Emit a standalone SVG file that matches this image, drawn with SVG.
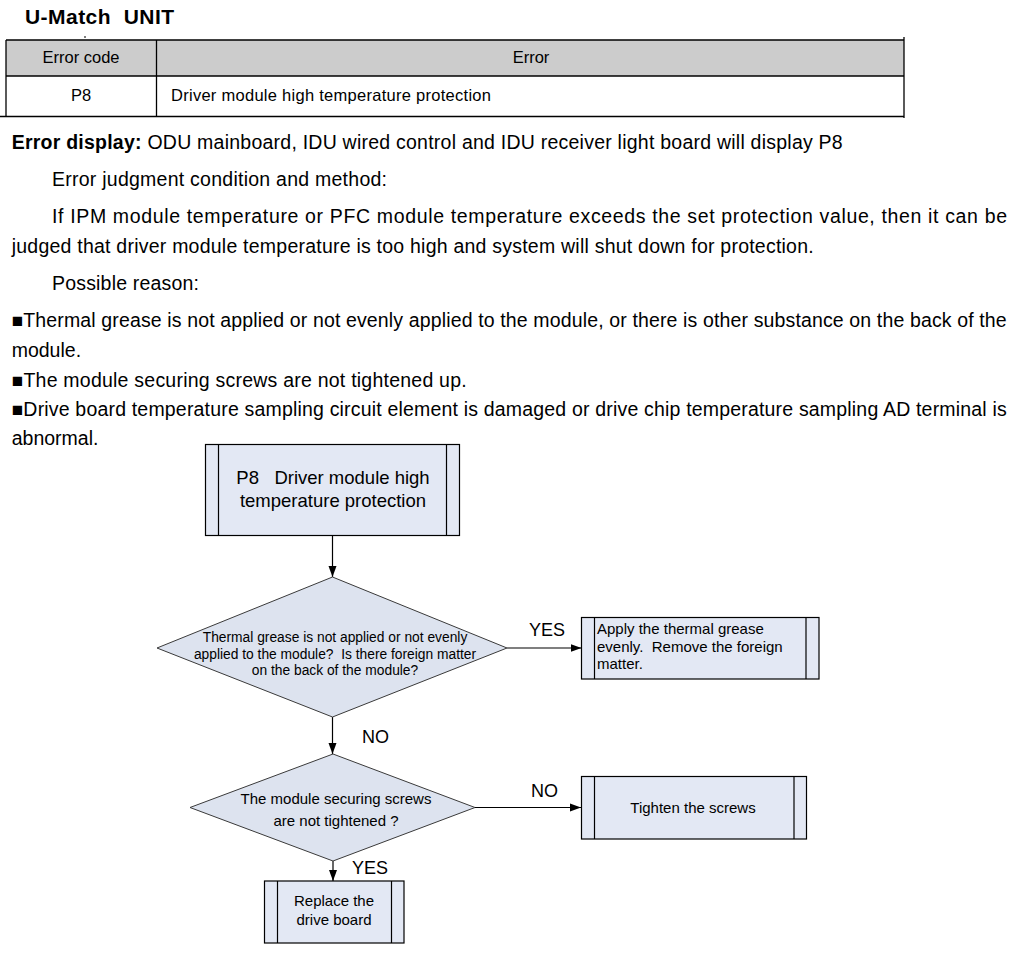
<svg xmlns="http://www.w3.org/2000/svg" width="1024" height="974" viewBox="0 0 1024 974">
<style>
  .t { font-family: "Liberation Sans", Arial, sans-serif; fill: #000; }
  .body { font-size: 19.5px; }
  .tbl { font-size: 16.5px; }
  .node { fill: #E3E8F4; stroke: #000; stroke-width: 1.2; }
  .dia { fill: #DDE3EF; stroke: #3a3a3a; stroke-width: 1; }
  .inner { stroke: #000; stroke-width: 1.2; }
  .conn { stroke: #000; stroke-width: 1.2; fill: none; }
  .lab { font-size: 18px; }
  .ft { font-size: 15px; }
  .dt { font-size: 13.8px; }
  .tline { stroke: #000; stroke-width: 1.3; }
  .bul { font-size: 19px; }
</style>
<defs>
  <marker id="arr" markerWidth="12" markerHeight="10" refX="11" refY="5" orient="auto" markerUnits="userSpaceOnUse">
    <path d="M0,1 L11,5 L0,9 Z" fill="#000"/>
  </marker>
</defs>
<rect width="1024" height="974" fill="#fff"/>

<!-- Title -->
<text class="t" x="25" y="24" font-size="21" font-weight="bold" textLength="149" lengthAdjust="spacing" xml:space="preserve">U-Match  UNIT</text>

<!-- Table -->
<g id="table">
  <rect x="6" y="40" width="898" height="36" fill="#cccccc"/>
  <line class="tline" x1="6" y1="40" x2="904" y2="40"/>
  <line class="tline" x1="6" y1="76" x2="904" y2="76"/>
  <line class="tline" x1="0" y1="116.5" x2="904" y2="116.5"/>
  <line class="tline" x1="6" y1="40" x2="6" y2="117"/>
  <line class="tline" x1="156.5" y1="40" x2="156.5" y2="117"/>
  <line class="tline" x1="904" y1="37" x2="904" y2="118"/>
  <rect x="84.5" y="36" width="1" height="2" fill="#000"/>
  <text class="t tbl" x="81" y="63" text-anchor="middle">Error code</text>
  <text class="t tbl" x="531" y="63" text-anchor="middle">Error</text>
  <text class="t tbl" x="81" y="101" text-anchor="middle">P8</text>
  <text class="t tbl" x="171" y="101" textLength="320" lengthAdjust="spacing">Driver module high temperature protection</text>
</g>

<!-- Body text -->
<g id="body">
  <text class="t body" x="11.7" y="149" textLength="831" lengthAdjust="spacing"><tspan font-weight="bold">Error display:</tspan> ODU mainboard, IDU wired control and IDU receiver light board will display P8</text>
  <text class="t body" x="52" y="186" textLength="335" lengthAdjust="spacing">Error judgment condition and method:</text>
  <text class="t body" x="52" y="223" textLength="955" lengthAdjust="spacing">If IPM module temperature or PFC module temperature exceeds the set protection value, then it can be</text>
  <text class="t body" x="11.7" y="253" textLength="802" lengthAdjust="spacing">judged that driver module temperature is too high and system will shut down for protection.</text>
  <text class="t body" x="52" y="290" textLength="147" lengthAdjust="spacing">Possible reason:</text>
  <text class="t body" x="11.7" y="327" textLength="995" lengthAdjust="spacing"><tspan class="bul">■</tspan>Thermal grease is not applied or not evenly applied to the module, or there is other substance on the back of the</text>
  <text class="t body" x="11.7" y="357">module.</text>
  <text class="t body" x="11.7" y="387" textLength="455" lengthAdjust="spacing"><tspan class="bul">■</tspan>The module securing screws are not tightened up.</text>
  <text class="t body" x="11.7" y="416" textLength="995" lengthAdjust="spacing"><tspan class="bul">■</tspan>Drive board temperature sampling circuit element is damaged or drive chip temperature sampling AD terminal is</text>
  <text class="t body" x="11.7" y="445">abnormal.</text>
</g>

<!-- Connectors -->
<g id="connectors">
  <line class="conn" x1="332.5" y1="535" x2="332.5" y2="577" marker-end="url(#arr)"/>
  <line class="conn" x1="507" y1="648" x2="581.5" y2="648" marker-end="url(#arr)"/>
  <line class="conn" x1="332.5" y1="717" x2="332.5" y2="754" marker-end="url(#arr)"/>
  <line class="conn" x1="475" y1="807.5" x2="581" y2="807.5" marker-end="url(#arr)"/>
  <line class="conn" x1="333" y1="861" x2="333" y2="881" marker-end="url(#arr)"/>
  <text class="t lab" x="529" y="636">YES</text>
  <text class="t lab" x="362" y="743">NO</text>
  <text class="t lab" x="531" y="797">NO</text>
  <text class="t lab" x="352" y="874">YES</text>
</g>

<!-- Nodes -->
<g id="start">
  <rect class="node" x="205.5" y="444.5" width="254" height="91"/>
  <line class="inner" x1="218.5" y1="444.5" x2="218.5" y2="535.5"/>
  <line class="inner" x1="446.5" y1="444.5" x2="446.5" y2="535.5"/>
  <text class="t" font-size="18.5" x="333" y="484" text-anchor="middle" xml:space="preserve">P8   Driver module high</text>
  <text class="t" font-size="18.5" x="333" y="507" text-anchor="middle">temperature protection</text>
</g>

<g id="decision1">
  <polygon class="dia" points="332.5,577 507,648 332.5,717 157,648"/>
  <text class="t dt" x="335" y="642" text-anchor="middle">Thermal grease is not applied or not evenly</text>
  <text class="t dt" x="335" y="659" text-anchor="middle" xml:space="preserve">applied to the module?  Is there foreign matter</text>
  <text class="t dt" x="335" y="675" text-anchor="middle">on the back of the module?</text>
</g>

<g id="apply">
  <rect class="node" x="581.5" y="617.5" width="237.5" height="61.5"/>
  <line class="inner" x1="594.5" y1="617.5" x2="594.5" y2="679"/>
  <line class="inner" x1="806" y1="617.5" x2="806" y2="679"/>
  <text class="t ft" x="597" y="634">Apply the thermal grease</text>
  <text class="t ft" x="597" y="652" xml:space="preserve">evenly.  Remove the foreign</text>
  <text class="t ft" x="597" y="669">matter.</text>
</g>

<g id="decision2">
  <polygon class="dia" points="333,754 475,807.5 333,861 190,807.5"/>
  <text class="t ft" x="336" y="804" text-anchor="middle">The module securing screws</text>
  <text class="t ft" x="336" y="826" text-anchor="middle">are not tightened ?</text>
</g>

<g id="tighten">
  <rect class="node" x="581.5" y="776.5" width="225" height="62.5"/>
  <line class="inner" x1="594.5" y1="776.5" x2="594.5" y2="839"/>
  <line class="inner" x1="794" y1="776.5" x2="794" y2="839"/>
  <text class="t ft" x="693" y="813" text-anchor="middle">Tighten the screws</text>
</g>

<g id="replace">
  <rect class="node" x="264.5" y="881" width="139.5" height="62"/>
  <line class="inner" x1="277.5" y1="881" x2="277.5" y2="943"/>
  <line class="inner" x1="391.5" y1="881" x2="391.5" y2="943"/>
  <text class="t ft" x="334" y="906" text-anchor="middle">Replace the</text>
  <text class="t ft" x="334" y="925" text-anchor="middle">drive board</text>
</g>
</svg>
